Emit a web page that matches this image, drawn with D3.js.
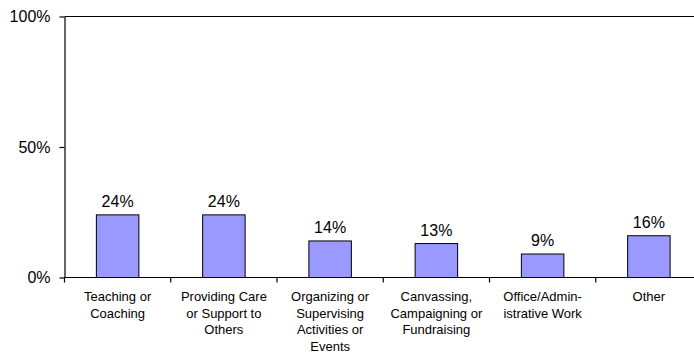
<!DOCTYPE html>
<html>
<head>
<meta charset="utf-8">
<script src="https://cdn.jsdelivr.net/npm/d3@7"></script>
<style>
  html, body { margin: 0; padding: 0; background: #fff; }
  svg { display: block; font-family: "Liberation Sans", Arial, sans-serif; }
</style>
</head>
<body>
<svg id="chart" width="694" height="354"></svg>
<script>
// Share of volunteers by main type of activity
const categories = [
  "Teaching or Coaching",
  "Providing Care or Support to Others",
  "Organizing or Supervising Activities or Events",
  "Canvassing, Campaigning or Fundraising",
  "Office/Administrative Work",
  "Other"
];
const categoryLines = [
  ["Teaching or", "Coaching"],
  ["Providing Care", "or Support to", "Others"],
  ["Organizing or", "Supervising", "Activities or", "Events"],
  ["Canvassing,", "Campaigning or", "Fundraising"],
  ["Office/Admin-", "istrative Work"],
  ["Other"]
];
const values = [24, 24, 14, 13, 9, 16];
const yTicks = [0, 50, 100];

const svg = d3.select("#chart");

const plotLeft = 64.5, plotRight = 702, plotTop = 16.5, plotBottom = 277.5;

const x = d3.scaleBand().domain(categories).range([plotLeft, plotRight]).padding(0);
const y = d3.scaleLinear().domain([0, 100]).range([plotBottom, plotTop]);

const bw = x.bandwidth();

// plot-area top border
svg.append("line")
  .attr("x1", plotLeft).attr("x2", plotRight)
  .attr("y1", plotTop).attr("y2", plotTop)
  .attr("stroke", "#000").attr("stroke-width", 1.2);

// bars
svg.append("g").selectAll("rect")
  .data(values)
  .join("rect")
  .attr("x", (d, i) => x(categories[i]) + bw * 0.3)
  .attr("width", bw * 0.4)
  .attr("y", d => y(d))
  .attr("height", d => y(0) - y(d))
  .attr("fill", "#9999FF")
  .attr("stroke", "#000")
  .attr("stroke-width", 1);

// value labels
svg.append("g").selectAll("text")
  .data(values)
  .join("text")
  .attr("x", (d, i) => x(categories[i]) + bw / 2)
  .attr("y", d => y(d) - 8)
  .attr("text-anchor", "middle")
  .attr("font-size", 16)
  .attr("fill", "#000")
  .text(d => d + "%");

// y axis
const yAxis = svg.append("g")
  .attr("transform", `translate(${plotLeft},0)`)
  .call(d3.axisLeft(y).tickValues(yTicks).tickFormat(d => d + "%").tickSize(5).tickPadding(9).tickSizeOuter(0));
yAxis.select(".domain").attr("stroke", "#000").attr("stroke-width", 1.2);
yAxis.selectAll(".tick line").attr("stroke", "#000").attr("stroke-width", 1.2);
yAxis.selectAll(".tick text")
  .attr("font-size", 16)
  .attr("font-family", "Liberation Sans, Arial, sans-serif")
  .attr("fill", "#000");

// x axis baseline with ticks between categories
const xAxis = svg.append("g");
xAxis.append("line")
  .attr("x1", plotLeft).attr("x2", plotRight)
  .attr("y1", y(0)).attr("y2", y(0))
  .attr("stroke", "#000").attr("stroke-width", 1.2);
const boundaries = categories.map(c => x(c)).concat([x(categories[categories.length - 1]) + bw]);
xAxis.selectAll("line.tick")
  .data(boundaries)
  .join("line")
  .attr("class", "tick")
  .attr("x1", d => d).attr("x2", d => d)
  .attr("y1", y(0)).attr("y2", y(0) + 5)
  .attr("stroke", "#000").attr("stroke-width", 1.2);

// category labels
const catLabels = svg.append("g").selectAll("text")
  .data(categoryLines)
  .join("text")
  .attr("x", (d, i) => x(categories[i]) + bw / 2)
  .attr("y", 301)
  .attr("text-anchor", "middle")
  .attr("font-size", 13)
  .attr("fill", "#000");
catLabels.each(function (lines, i) {
  const t = d3.select(this);
  lines.forEach((ln, j) => {
    t.append("tspan")
      .attr("x", x(categories[i]) + bw / 2)
      .attr("y", 301 + j * 16.7)
      .text(ln);
  });
});
</script>
</body>
</html>
